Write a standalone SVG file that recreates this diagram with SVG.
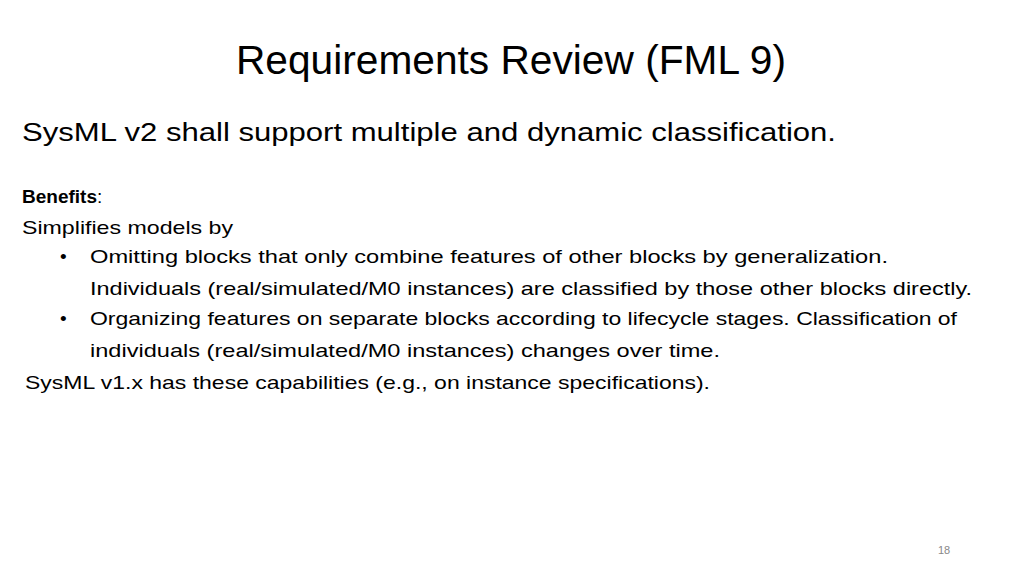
<svg xmlns="http://www.w3.org/2000/svg" width="1024" height="576" viewBox="0 0 1024 576">
<style>
text{font-family:"Liberation Sans",Arial,sans-serif;fill:#000}
.b{font-size:19px}
</style>
<rect width="1024" height="576" fill="#fff"/>
<text x="511" y="74" font-size="40" text-anchor="middle" textLength="550" lengthAdjust="spacingAndGlyphs">Requirements Review (FML 9)</text>
<text x="22" y="141" font-size="25" textLength="814" lengthAdjust="spacingAndGlyphs">SysML v2 shall support multiple and dynamic classification.</text>
<text class="b" x="22" y="203"><tspan font-weight="bold">Benefits</tspan>:</text>
<text class="b" x="22" y="234" textLength="211" lengthAdjust="spacingAndGlyphs">Simplifies models by</text>
<text class="b" x="60" y="263">•</text>
<text class="b" x="90" y="263" textLength="798" lengthAdjust="spacingAndGlyphs">Omitting blocks that only combine features of other blocks by generalization.</text>
<text class="b" x="90" y="295" textLength="882" lengthAdjust="spacingAndGlyphs">Individuals (real/simulated/M0 instances) are classified by those other blocks directly.</text>
<text class="b" x="60" y="325">•</text>
<text class="b" x="90" y="325" textLength="867" lengthAdjust="spacingAndGlyphs">Organizing features on separate blocks according to lifecycle stages. Classification of</text>
<text class="b" x="90" y="357" textLength="630" lengthAdjust="spacingAndGlyphs">individuals (real/simulated/M0 instances) changes over time.</text>
<text class="b" x="25" y="389" textLength="685" lengthAdjust="spacingAndGlyphs">SysML v1.x has these capabilities (e.g., on instance specifications).</text>
<text x="938" y="554" font-size="11" fill="#888" style="fill:#888">18</text>
</svg>
